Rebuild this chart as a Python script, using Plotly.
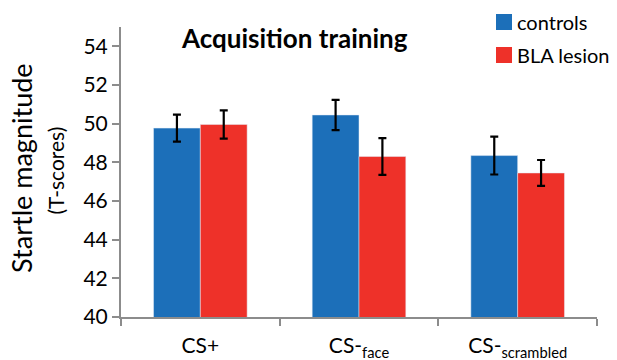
import plotly.graph_objects as go

categories = ["CS+", "CS-<sub>face</sub>", "CS-<sub>scrambled</sub>"]
series_names = ["controls", "BLA lesion"]
controls = [49.77, 50.45, 48.35]
controls_err = [0.7, 0.78, 0.98]
bla_lesion = [49.96, 48.3, 47.45]
bla_lesion_err = [0.73, 0.95, 0.67]

FONT = "Lato, 'Open Sans', sans-serif"
BLUE = "#1C6FB9"
RED = "#EE3129"
AXIS = "#8C8C8C"

W, H = 617, 360
M = dict(l=121, r=20, t=27, b=43)
PW, PH = W - M["l"] - M["r"], H - M["t"] - M["b"]


def px_x(x):
    """Pixel column -> paper x."""
    return (x - M["l"]) / PW


def px_y(y):
    """Pixel row (from top) -> paper y."""
    return 1 - (y - M["t"]) / PH


fig = go.Figure()
colors = [BLUE, RED]
for name, vals, errs, color in zip(series_names, [controls, bla_lesion],
                                   [controls_err, bla_lesion_err], colors):
    fig.add_trace(go.Bar(
        x=categories, y=vals, name=name, marker_color=color,
        error_y=dict(type="data", array=errs, color="black", thickness=2.2, width=4),
    ))

fig.update_layout(
    width=W, height=H,
    margin=dict(**M, autoexpand=False),
    paper_bgcolor="white", plot_bgcolor="white",
    barmode="group", bargap=0.41, bargroupgap=0,
    font=dict(family=FONT, size=20, color="black"),
    showlegend=False,
)
fig.update_yaxes(range=[40, 55], tickvals=[40, 42, 44, 46, 48, 50, 52, 54],
                 showgrid=False, zeroline=False, showline=True, linecolor=AXIS,
                 linewidth=2, ticks="outside", ticklen=7, tickwidth=2,
                 tickcolor=AXIS, tickfont=dict(size=21, color="black"))
fig.update_xaxes(showgrid=False, showline=True, linecolor=AXIS, linewidth=2,
                 ticks="outside", tickson="boundaries", ticklen=7, tickwidth=2,
                 tickcolor=AXIS, tickfont=dict(size=21, color="black"),
                 ticklabelstandoff=9)

# legend: colour swatch + label, top right
for i, (name, color) in enumerate(zip(series_names, colors)):
    cy = 22 + 33 * i
    fig.add_shape(type="rect", xref="paper", yref="paper",
                  x0=px_x(496), x1=px_x(512), y0=px_y(cy + 8), y1=px_y(cy - 8),
                  fillcolor=color, line_width=0)
    fig.add_annotation(text=name, xref="paper", yref="paper",
                       x=px_x(515), y=px_y(cy), xanchor="left", yanchor="middle",
                       showarrow=False, font=dict(size=20))

fig.add_annotation(text="<b>Acquisition training</b>", xref="paper", yref="paper",
                   x=0.3655, y=0.961, xanchor="center", yanchor="middle",
                   showarrow=False, font=dict(size=26))
fig.add_annotation(text="Startle magnitude", xref="paper", yref="paper",
                   x=0, y=0.514, xshift=-99, xanchor="center", yanchor="middle",
                   textangle=-90, showarrow=False, font=dict(size=27))
fig.add_annotation(text="(T-scores)", xref="paper", yref="paper",
                   x=0, y=0.505, xshift=-65, xanchor="center", yanchor="middle",
                   textangle=-90, showarrow=False, font=dict(size=21))

fig.write_html("out.html")
